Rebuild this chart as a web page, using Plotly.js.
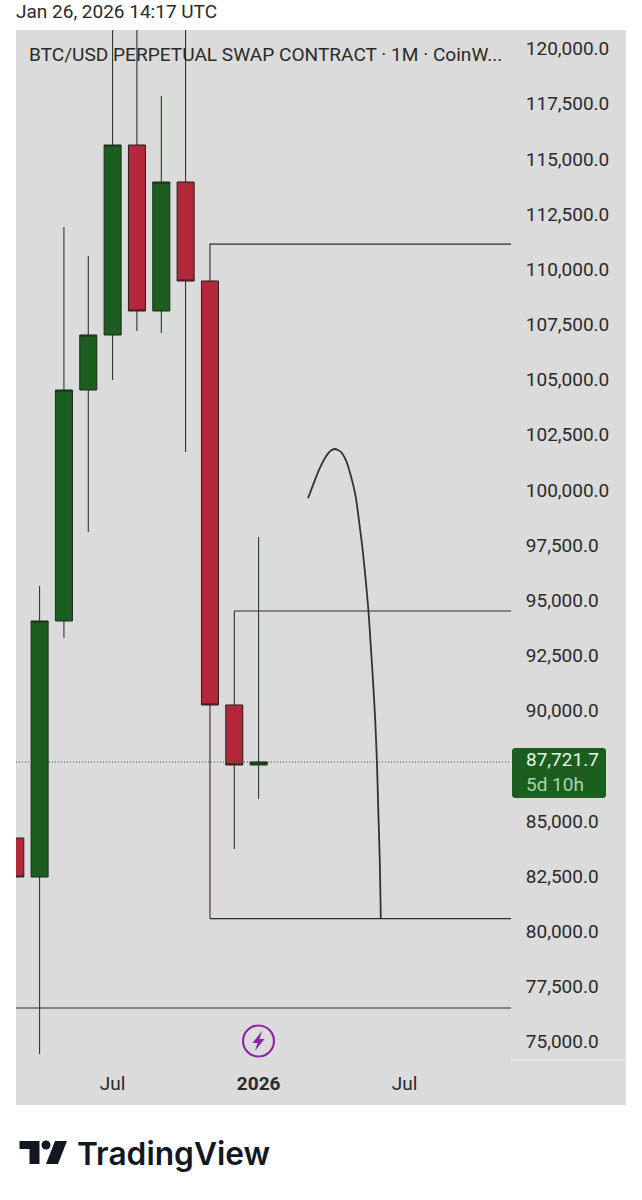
<!DOCTYPE html>
<html><head><meta charset="utf-8">
<script src="https://cdn.plot.ly/plotly-3.0.1.min.js"></script>
<style>html,body{margin:0;padding:0;background:#fff}#c{width:642px;height:1200px}</style>
</head><body><div id="c"></div>
<script>
// Months, one candle each (index = position on the monthly axis)
const months = ["Mar 2025","Apr 2025","May 2025","Jun 2025","Jul 2025","Aug 2025","Sep 2025","Oct 2025","Nov 2025","Dec 2025","Jan 2026"];
const candleIndex = [0,1,2,3,4,5,6,7,8,9,10];
const open  = [84277, 82510, 94110,104576,107068,115677,108156,114001,109515, 90304, 87585];
const high  = [84900, 95695,111962,110648,124000,124500,117898,126000,111214, 94563, 97916];
const low   = [82000, 74490, 93339, 98142,105030,107249,107159,101767, 80620, 83779, 86045];
const close = [82510, 94110,104576,107068,115677,108156,114001,109515, 90304, 87585, 87721.7];
const lastPrice = 87721.7;

const xTickVals = [4,10,16];
const xTickText = ["Jul","<b>2026</b>","Jul"];
// 87,500 sits behind the last-price badge, so it is not listed
const yTickVals = [75000,77500,80000,82500,85000,90000,92500,95000,97500,100000,102500,105000,107500,110000,112500,115000,117500,120000];

// Drawn horizontal rays: start index and price; all end at rayEnd
const rayStart = [8, 9, 8, 0.03];
const rayPrice = [111190, 94563, 80620, 76575];
const rayEnd = 20.37;

// Hand-drawn projected arc
const arcX = [12.03,12.21,12.48,12.76,12.96,13.14,13.37,13.58,13.78,13.99,14.12,14.26,14.40,14.51,14.60,14.69,14.79,14.86,14.92,14.98,15.02];
const arcY = [99669,100195,100952,101554,101826,101903,101781,101405,100725,99742,98686,97476,95967,94608,93113,91586,89624,87735,85410,83144,80652];

const INK = "#2b2b2b", GREEN = "#1b5e20", RED = "#b2283a", BG = "#dbdbdb";
const FONT = "Roboto, sans-serif";

const traces = [];
rayPrice.forEach((p,i)=>traces.push({type:"scatter",mode:"lines",x:[rayStart[i],rayEnd],y:[p,p],
  line:{color:INK,width:1.2},hoverinfo:"skip",showlegend:false}));
traces.push({type:"scatter",mode:"lines",x:[0.03,rayEnd],y:[lastPrice,lastPrice],
  line:{color:GREEN,width:1,dash:"1px 2px"},hoverinfo:"skip",showlegend:false});
traces.push({type:"scatter",mode:"lines",x:arcX,y:arcY,line:{color:"#333333",width:1.8,shape:"spline",smoothing:0.6},hoverinfo:"skip",showlegend:false});
traces.push({type:"candlestick",x:candleIndex,open,high,low,close,text:months,whiskerwidth:0,
  increasing:{line:{color:"#1c2a1c",width:1},fillcolor:GREEN},
  decreasing:{line:{color:"#2a1a1c",width:1},fillcolor:RED},showlegend:false,hoverinfo:"skip"});

// pane: 16..511 x, 30..1060 y; helpers convert page pixels to paper coordinates
const L=16,R=511,T=30,B=1060;
const px=x=>(x-L)/(R-L), py=y=>(B-y)/(B-T);
const rectP=(x0,y0,x1,y1,fill,layer)=>({type:"rect",xref:"paper",yref:"paper",x0:px(x0),x1:px(x1),y0:py(y0),y1:py(y1),fillcolor:fill,line:{width:0},layer:layer||"above"});
const pathP=(pts,fill)=>({type:"path",xref:"paper",yref:"paper",layer:"above",fillcolor:fill,line:{width:0},
  path:"M"+pts.map(p=>px(p[0])+","+py(p[1])).join("L")+"Z"});
const circleP=(cx,cy,r,fill,lc,lw)=>({type:"circle",xref:"paper",yref:"paper",layer:"above",x0:px(cx-r),x1:px(cx+r),y0:py(cy-r),y1:py(cy+r),fillcolor:fill,line:{color:lc,width:lw}});

const shapes=[
  rectP(16,30,626,1105,BG,"below"),
  rectP(511,1059.5,626,1060.5,"#f4f4f4"),
  pathP([[514,748],[604,748],[606,750],[606,796],[604,798],[514,798],[512,796],[512,750]],GREEN),
  circleP(258.5,1041,17,"#f2f2f2","#f2f2f2",0),
  circleP(258.5,1041,15.5,BG,"#8e24aa",2.2),
  pathP([[262,1031],[252.5,1043],[257.5,1043],[255,1051],[264.5,1039],[259.5,1039]],"#8e24aa"),
  pathP([[19.5,1141],[39.5,1141],[39.5,1164],[29.5,1164],[29.5,1149],[19.5,1149]],"#131722"),
  circleP(46,1145,4.5,"#131722","#131722",0),
  pathP([[55,1141],[67,1141],[58,1164],[46,1164]],"#131722")
];

const txt=(s,x,y,size,color,extra)=>Object.assign({text:s,xref:"paper",yref:"paper",x:px(x),y:py(y),xanchor:"left",yanchor:"middle",align:"left",
  showarrow:false,font:{family:FONT,size:size,color:color}},extra||{});

const annotations=[
  txt("Jan 26, 2026 14:17 UTC",14,11,19,"#2a2a2a"),
  txt("BTC/USD PERPETUAL SWAP CONTRACT · 1M · CoinW...",27,55,19.1,"#2a2a2a"),
  txt("87,721.7<br><span style='color:#a5d6a7'>5d 10h</span>",524,771.5,19,"#e8f5e9"),
  txt("TradingView",75,1153,32,"#131722",{font:{family:"Inter, sans-serif",size:31.7,color:"#131722",weight:600}})
];

const layout={
  width:642,height:1200,paper_bgcolor:"#ffffff",plot_bgcolor:"rgba(0,0,0,0)",
  margin:{l:L,r:642-R,t:T,b:1200-B,pad:0},showlegend:false,boxgap:0,
  xaxis:{type:"linear",range:[0.03,20.37],tickmode:"array",tickvals:xTickVals,ticktext:xTickText,
    showgrid:false,zeroline:false,showline:false,rangeslider:{visible:false},
    ticks:"outside",ticklen:6,tickcolor:"rgba(0,0,0,0)",tickfont:{family:FONT,size:19,color:"#2a2a2a"}},
  yaxis:{side:"right",range:[74218,120888],tickmode:"array",tickvals:yTickVals,tickformat:",.1f",
    showgrid:false,zeroline:false,showline:false,ticklabelshift:-1,
    ticks:"outside",ticklen:10,tickcolor:"rgba(0,0,0,0)",tickfont:{family:FONT,size:19,color:"#2a2a2a"}},
  shapes,annotations
};
Plotly.newPlot("c",traces,layout,{displayModeBar:false,staticPlot:true});
</script></body></html>
